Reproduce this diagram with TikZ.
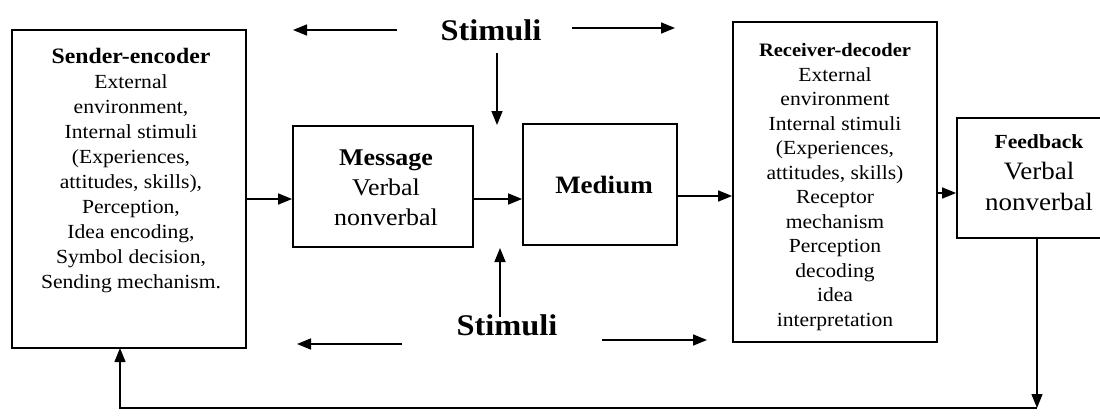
\documentclass[tikz,border=0pt]{standalone}
\usepackage{fontspec}
\setmainfont[FakeStretch=1.08]{Liberation Serif}
\usetikzlibrary{arrows.meta}
\begin{document}
\begin{tikzpicture}[x=1pt,y=-1pt,
  box/.style={draw, line width=1.8pt, inner sep=0pt},
  flow/.style={line width=1.6pt, -{Triangle[length=14pt,width=11pt]}},
  txt/.style={align=center, inner sep=0pt},
  stim/.style={inner sep=0pt, font=\fontsize{30}{32}\selectfont\bfseries}]
\clip (0,0) rectangle (1100,416);

% boxes
\node[box, minimum width=234pt, minimum height=318pt] (sender) at (129,189) {};
\node[box, minimum width=180pt, minimum height=121pt] (message) at (383,186.5) {};
\node[box, minimum width=154pt, minimum height=121pt] (medium) at (600,184.5) {};
\node[box, minimum width=204pt, minimum height=320pt] (receiver) at (835,182) {};
\node[box, minimum width=148pt, minimum height=120pt] (feedback) at (1031,178) {};

% box texts
\node[txt, font=\fontsize{20}{25}\selectfont] (sendertxt) at (131,171)
  {{\fontsize{22}{25}\selectfont\bfseries Sender-encoder}\\
   External\\ environment,\\ Internal stimuli\\ (Experiences,\\
   attitudes, skills),\\ Perception,\\ Idea encoding,\\
   Symbol decision,\\ Sending mechanism.};
\node[txt, font=\fontsize{24}{30}\selectfont] (messagetxt) at (386,188)
  {\textbf{Message}\\ Verbal\\ nonverbal};
\node[txt, font=\fontsize{25}{30}\selectfont\bfseries] (mediumtxt) at (604,185) {Medium};
\node[txt, font=\fontsize{20}{24.5}\selectfont] (receivertxt) at (835,187)
  {{\fontsize{19}{24.5}\selectfont\bfseries Receiver-decoder}\\
   External\\ environment\\ Internal stimuli\\ (Experiences,\\
   attitudes, skills)\\ Receptor\\ mechanism\\ Perception\\
   decoding\\ idea\\ interpretation};
\node[txt, font=\fontsize{25}{31}\selectfont] (feedbacktxt) at (1039,173)
  {{\fontsize{20}{27}\selectfont\bfseries Feedback}\\ Verbal\\ nonverbal};

% stimuli labels
\node[stim] (stimtop) at (491,30) {Stimuli};
\node[stim] (stimbot) at (507,325) {Stimuli};

% free ends of the stimulus arrows
\coordinate (tl0) at (397,30);  \coordinate (tl1) at (293,30);
\coordinate (tr0) at (572,28);  \coordinate (tr1) at (675,28);
\coordinate (td0) at (497,53);  \coordinate (td1) at (497,125);
\coordinate (bu0) at (500,317); \coordinate (bu1) at (500,248);
\coordinate (bl0) at (402,344); \coordinate (bl1) at (297,344);
\coordinate (br0) at (602,340); \coordinate (br1) at (707,340);

\draw[flow] (tl0) -- (tl1);
\draw[flow] (tr0) -- (tr1);
\draw[flow] (td0) -- (td1);
\draw[flow] (bu0) -- (bu1);
\draw[flow] (bl0) -- (bl1);
\draw[flow] (br0) -- (br1);

% main flow
\draw[flow] ([yshift=-10pt]sender.east) -- ([yshift=-12.5pt]message.west);
\draw[flow] ([yshift=-12.5pt]message.east) -- ([yshift=-14.5pt]medium.west);
\draw[flow] ([yshift=-11.5pt]medium.east) -- ([yshift=-14pt]receiver.west);
\draw[flow] ([yshift=-11pt]receiver.east) -- ([yshift=-15pt]feedback.west);

% feedback loop
\coordinate (fbtop) at (1037,238);
\coordinate (fbcorner) at (1037,408);
\coordinate (sdcorner) at (120,408);
\coordinate (sdtop) at (120,348);
\draw[flow, line width=1.3pt] (fbtop) -- (fbcorner);
\draw[flow, line width=1.3pt] (fbcorner) -- (sdcorner) -- (sdtop);
\end{tikzpicture}
\end{document}
